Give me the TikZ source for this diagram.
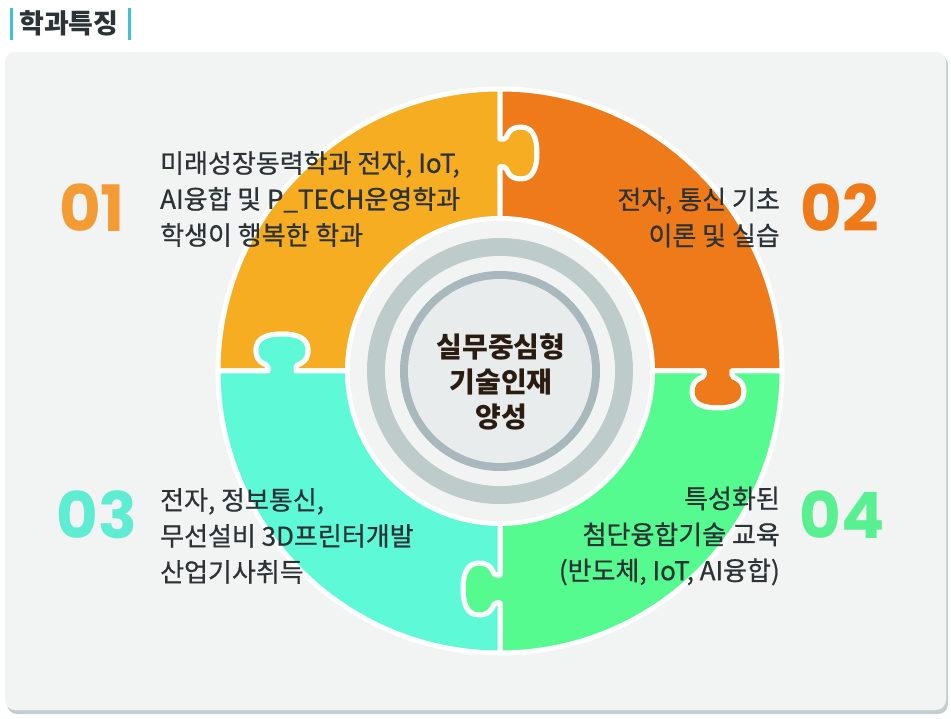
\documentclass[tikz,border=0pt]{standalone}
\usepackage{fontspec}
\setmainfont{Noto Sans CJK KR}
\newfontfamily\bodyfont[FakeBold=0.7]{Noto Sans CJK KR}
\newfontfamily\numfont{Poppins}
\usepackage{tikz}
\definecolor{panel}{RGB}{242, 244, 243}
\definecolor{shadow}{RGB}{195, 207, 207}
\definecolor{teal}{RGB}{62, 196, 208}
\definecolor{ink}{RGB}{44, 51, 55}
\definecolor{coreink}{RGB}{43, 28, 18}
\definecolor{yellowpc}{RGB}{246, 173, 34}
\definecolor{orangepc}{RGB}{239, 122, 25}
\definecolor{greenpc}{RGB}{85, 251, 143}
\definecolor{cyanpc}{RGB}{94, 250, 216}
\definecolor{num1}{RGB}{242, 156, 51}
\definecolor{num3}{RGB}{94, 236, 210}
\definecolor{num4}{RGB}{88, 240, 144}
\definecolor{ringlight}{RGB}{242, 244, 244}
\definecolor{ringgray}{RGB}{189, 203, 203}
\definecolor{ringdark}{RGB}{168, 184, 188}
\definecolor{disc}{RGB}{232, 236, 236}

\begin{document}
\begin{tikzpicture}[x=1pt, y=1pt,
    bodytext/.style={text=ink, inner sep=0, font=\bodyfont\fontsize{26}{36}\selectfont},
    bignum/.style={inner sep=0, font=\numfont\bfseries\fontsize{64}{64}\selectfont}]
  \useasboundingbox (0, 0) rectangle (951, 718);

  % title
  \node[anchor=west, inner sep=0, text=ink, font=\bfseries\fontsize{27}{27}\selectfont]
    (title) at (19, 695) {학과특징};
  \draw [color=teal, line width=3] (11.5, 678) -- (11.5, 710);
  \draw [color=teal, line width=3] (129.5, 678) -- (129.5, 710);

  % panel
  \fill [color=shadow, rounded corners=10pt] (7, 4) rectangle (948, 663);
  \fill [color=panel, rounded corners=10pt] (5, 8) rectangle (946, 666);

  \begin{scope}[shift={(500, 347)}]
    \foreach \ang/\col in {0/yellowpc, -90/orangepc, -180/greenpc, -270/cyanpc} {
      \begin{scope}[rotate=\ang]
        \filldraw [fill=\col, draw=white, line width=5, line join=round]
          (0, 152.5) -- (0, 204) -- (4, 204) .. controls (8, 204) and (6, 192) .. (21, 192) ..
          controls (33, 192) and (37, 203) .. (37, 218) .. controls (37, 233) and (33, 244) .. (21, 244) ..
          controls (6, 244) and (8, 232) .. (4, 232) -- (0, 232) -- (0, 282)
          arc [start angle=90, end angle=180, radius=282]
          -- (-232, 0) -- (-232, 4) .. controls (-232, 8) and (-244, 6) .. (-244, 21) ..
          controls (-244, 33) and (-233, 37) .. (-218, 37) .. controls (-203, 37) and (-192, 33) .. (-192, 21) ..
          controls (-192, 6) and (-204, 8) .. (-204, 4) -- (-204, 0) -- (-152.5, 0)
          arc [start angle=180, end angle=90, radius=152.5] -- cycle;
      \end{scope}
    }
    \fill [color=ringlight] (0, 0) circle (150);
    \fill [color=ringgray] (0, 0) circle (133);
    \fill [color=ringlight] (0, 0) circle (115);
    \fill [color=ringdark] (0, 0) circle (100);
    \fill [color=disc] (0, 0) circle (92);
  \end{scope}

  \node[align=center, inner sep=0, text=coreink, font=\bfseries\fontsize{28}{35}\selectfont]
    (core) at (501, 336) {실무중심형\\기술인재\\양성};

  % numbers
  \node[bignum, text=num1] (n1) at (92, 510) {01};
  \node[bignum, text=orangepc] (n2) at (840, 510) {02};
  \node[bignum, text=num3] (n3) at (97, 203) {03};
  \node[bignum, text=num4] (n4) at (842, 203) {04};

  % texts
  \node[bodytext, anchor=west, align=left] (t1) at (160, 519)
    {미래성장동력학과 전자, IoT,\\AI융합 및 P\_TECH운영학과\\학생이 행복한 학과};
  \node[bodytext, anchor=east, align=right] (t2) at (780, 500.5)
    {전자, 통신 기초\\이론 및 실습};
  \node[bodytext, anchor=west, align=left] (t3) at (160, 182)
    {전자, 정보통신,\\무선설비 3D프린터개발\\산업기사취득};
  \node[bodytext, anchor=east, align=right] (t4) at (780, 182)
    {특성화된\\첨단융합기술 교육\\(반도체, IoT, AI융합)};
\end{tikzpicture}
\end{document}
